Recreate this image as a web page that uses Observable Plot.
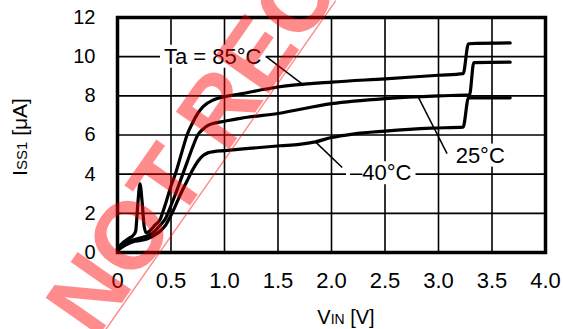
<!DOCTYPE html>
<html>
<head>
<meta charset="utf-8">
<script src="https://cdn.jsdelivr.net/npm/d3@7"></script>
<script src="https://cdn.jsdelivr.net/npm/@observablehq/plot@0.6"></script>
<style>
  html, body { margin: 0; padding: 0; background: white; }
  svg { display: block; }
</style>
</head>
<body>
<script>
// ---- Data ----
const xTicks = [0, 0.5, 1.0, 1.5, 2.0, 2.5, 3.0, 3.5, 4.0];
const yTicks = [0, 2, 4, 6, 8, 10, 12];

const vin85 = [0, 0.05, 0.1, 0.15, 0.17, 0.19, 0.21, 0.23, 0.25, 0.27, 0.3, 0.35, 0.4, 0.42, 0.45, 0.5, 0.54, 0.6, 0.65, 0.7, 0.75, 0.8, 0.9, 1.0, 1.15, 1.5, 2.0, 2.5, 3.0, 3.23, 3.28, 3.67];
const iss85 = [0.2, 0.5, 0.7, 0.9, 1.1, 2.5, 3.5, 2.6, 1.3, 1.0, 1.1, 1.4, 1.7, 2.0, 2.5, 3.4, 4.0, 5.1, 6.0, 6.6, 7.1, 7.45, 7.8, 7.95, 8.1, 8.45, 8.7, 8.87, 9.05, 9.13, 10.66, 10.7];

const vin25 = [0, 0.05, 0.1, 0.15, 0.2, 0.25, 0.3, 0.35, 0.4, 0.45, 0.5, 0.55, 0.6, 0.65, 0.7, 0.75, 0.8, 0.85, 0.9, 1.0, 1.15, 1.5, 2.0, 2.5, 3.0, 3.29, 3.33, 3.67];
const iss25 = [0.15, 0.4, 0.55, 0.65, 0.72, 0.8, 0.9, 1.1, 1.4, 1.75, 2.4, 3.1, 3.85, 4.6, 5.35, 6.0, 6.3, 6.5, 6.6, 6.7, 6.85, 7.1, 7.6, 7.86, 8.0, 8.05, 9.7, 9.72];

const vinM40 = [0, 0.05, 0.1, 0.15, 0.2, 0.25, 0.3, 0.35, 0.4, 0.45, 0.5, 0.55, 0.6, 0.65, 0.7, 0.75, 0.8, 0.85, 0.9, 1.0, 1.2, 1.52, 1.7, 1.85, 2.0, 2.2, 2.5, 2.93, 3.23, 3.28, 3.67];
const issM40 = [0.1, 0.3, 0.45, 0.55, 0.6, 0.65, 0.75, 0.9, 1.1, 1.4, 1.9, 2.5, 3.1, 3.65, 4.2, 4.65, 4.95, 5.1, 5.15, 5.2, 5.3, 5.45, 5.52, 5.65, 5.87, 6.05, 6.2, 6.35, 6.4, 7.9, 7.9];

// callout labels and their leader lines (data units)
const labelText = ["Ta = 85°C", "25°C", "\u201340°C"];
const labelX = [0.89, 3.39, 2.46];
const labelY = [10.0, 4.95, 4.05];
const leaderX1 = [1.39, 2.81, 1.85];
const leaderY1 = [10.0, 7.95, 5.65];
const leaderX2 = [1.74, 3.08, 2.10];
const leaderY2 = [8.55, 5.05, 4.34];

// watermark
const watermarkText = ["NOT RECOMMENDED"];
const wmLineX = [-0.11, 2.04];
const wmLineY = [-3.93, 12.86];

// ---- Build tables ----
const toRows = (xs, ys) => xs.map((x, i) => ({x, y: ys[i]}));
const c85 = toRows(vin85, iss85);
const c25 = toRows(vin25, iss25);
const cM40 = toRows(vinM40, issM40);
const labels = labelText.map((t, i) => ({t, x: labelX[i], y: labelY[i]}));
const leaders = leaderX1.map((x1, i) => ({x1, y1: leaderY1[i], x2: leaderX2[i], y2: leaderY2[i]}));
const wmLine = [{x1: wmLineX[0], y1: wmLineY[0], x2: wmLineX[1], y2: wmLineY[1]}];

const FONT = "Arial, 'Liberation Sans', Helvetica, sans-serif";
const curveStyle = {x: "x", y: "y", stroke: "black", strokeWidth: 3.2, curve: "monotone-x", strokeLinejoin: "round"};

const chart = Plot.plot({
  width: 563,
  height: 329,
  marginLeft: 117,
  marginRight: 18,
  marginTop: 17,
  marginBottom: 77,
  x: {domain: [0, 4]},
  y: {domain: [0, 12]},
  style: {fontFamily: FONT, background: "white", color: "black", overflow: "visible"},
  marks: [
    Plot.gridX(xTicks, {stroke: "black", strokeOpacity: 1, strokeWidth: 1.6}),
    Plot.gridY(yTicks, {stroke: "black", strokeOpacity: 1, strokeWidth: 1.6}),
    Plot.line(cM40, curveStyle),
    Plot.line(c25, curveStyle),
    Plot.line(c85, curveStyle),
    Plot.link(leaders, {x1: "x1", y1: "y1", x2: "x2", y2: "y2", stroke: "black", strokeWidth: 1.5}),
    Plot.text(labels, {x: "x", y: "y", text: "t", fontSize: 22, fill: "black"}),
    Plot.frame({stroke: "black", strokeWidth: 3.5}),
    Plot.axisX(xTicks, {tickSize: 0, tickPadding: 20, fontSize: 22, label: null,
      tickFormat: d => d === 0 ? "0" : d.toFixed(1)}),
    Plot.axisY(yTicks, {tickSize: 0, tickPadding: 22, fontSize: 20, label: null}),
    Plot.link(wmLine, {x1: "x1", y1: "y1", x2: "x2", y2: "y2", stroke: "#ff0000", strokeOpacity: 0.45, strokeWidth: 1.5}),
    Plot.text(watermarkText, {frameAnchor: "bottom-left", dx: -22, dy: 88, rotate: -55,
      text: d => d, textAnchor: "start", fontSize: 95, fontWeight: "bold",
      fill: "#ff0000", fillOpacity: 0.45})
  ]
});

document.body.append(chart);

// white boxes behind callout labels (they interrupt the grid)
d3.select(chart).selectAll("text").filter(function () {
  return labelText.includes(this.textContent);
}).each(function () {
  const b = this.getBBox();
  const pad = 4;
  const r = document.createElementNS("http://www.w3.org/2000/svg", "rect");
  r.setAttribute("x", b.x - pad);
  r.setAttribute("y", b.y + 1);
  r.setAttribute("width", b.width + 2 * pad);
  r.setAttribute("height", b.height - 2);
  r.setAttribute("fill", "white");
  r.setAttribute("stroke", "none");
  const tf = this.getAttribute("transform");
  if (tf) r.setAttribute("transform", tf);
  this.parentNode.insertBefore(r, this);
});

// axis titles with small subscripts
const svg = d3.select(chart);
const xt = svg.append("text")
  .attr("x", 346).attr("y", 324)
  .attr("text-anchor", "middle")
  .attr("font-family", FONT).attr("font-size", 20).attr("fill", "black");
xt.append("tspan").text("V");
xt.append("tspan").attr("font-size", 14).text("IN");
xt.append("tspan").text(" [V]");

const yt = svg.append("text")
  .attr("transform", "translate(27,137) rotate(-90)")
  .attr("text-anchor", "middle")
  .attr("font-family", FONT).attr("font-size", 21).attr("fill", "black");
yt.append("tspan").text("I");
yt.append("tspan").attr("font-size", 15).text("SS1");
yt.append("tspan").text(" [\u03bcA]");
</script>
</body>
</html>
